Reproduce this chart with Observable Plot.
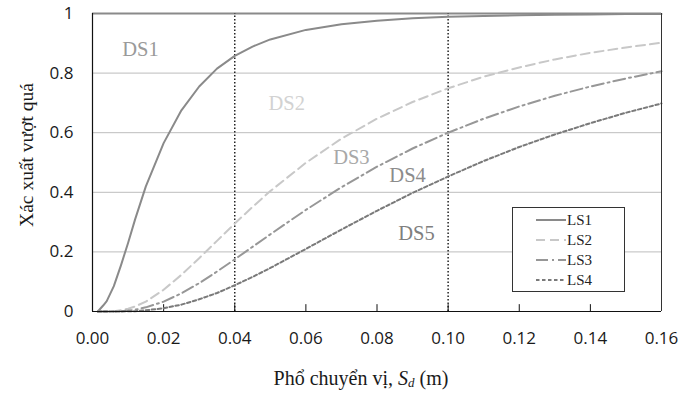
<!DOCTYPE html>
<html>
<head>
<meta charset="utf-8">
<script src="https://cdn.jsdelivr.net/npm/d3@7"></script>
<script src="https://cdn.jsdelivr.net/npm/@observablehq/plot@0.6"></script>
<style>
  html, body { margin: 0; padding: 0; background: #fff; }
  #wrap { position: relative; width: 679px; height: 393px; }
  #legend { position: absolute; left: 512px; top: 207px; width: 113px; height: 85px;
    border: 1px solid #333; background: #fff; box-sizing: border-box;
    font-family: "Liberation Serif", "Times New Roman", serif; font-size: 15px; color: #222; }
  .row { position: absolute; left: 23px; height: 20px; display: flex; align-items: center; line-height: 20px; }
  .row svg { display: block; }
</style>
</head>
<body>
<div id="wrap"><div id="chart"></div><div id="legend"></div></div>
<script>
// Spectral displacement Sd (m)
const sd = [0.0015, 0.003, 0.004, 0.006, 0.008, 0.010, 0.012, 0.015, 0.020, 0.025, 0.030, 0.035, 0.040,
            0.045, 0.050, 0.060, 0.070, 0.080, 0.090, 0.100, 0.110, 0.120, 0.130, 0.140, 0.150, 0.160];
// Exceedance probabilities for each limit state
const ls1 = [0, 0.02, 0.035, 0.085, 0.155, 0.23, 0.31, 0.42, 0.565, 0.675, 0.755, 0.815, 0.858,
             0.889, 0.913, 0.945, 0.964, 0.976, 0.984, 0.989, 0.992, 0.994, 0.996, 0.997, 0.998, 0.998];
const ls2 = [0, 0, 0, 0.001, 0.004, 0.009, 0.017, 0.033, 0.073, 0.123, 0.179, 0.237, 0.295,
             0.351, 0.404, 0.499, 0.580, 0.647, 0.703, 0.749, 0.788, 0.819, 0.846, 0.868, 0.886, 0.902];
const ls3 = [0, 0, 0, 0, 0.001, 0.003, 0.006, 0.014, 0.033, 0.061, 0.095, 0.134, 0.175,
             0.217, 0.259, 0.341, 0.417, 0.486, 0.547, 0.600, 0.647, 0.688, 0.724, 0.755, 0.782, 0.806];
const ls4 = [0, 0, 0, 0, 0, 0.001, 0.001, 0.004, 0.011, 0.023, 0.041, 0.062, 0.088,
             0.116, 0.146, 0.210, 0.275, 0.338, 0.398, 0.453, 0.505, 0.552, 0.594, 0.632, 0.667, 0.698];
const seriesNames = ["LS1", "LS2", "LS3", "LS4"];
const seriesValues = [ls1, ls2, ls3, ls4];

// Damage state annotations
const dsLabels = ["DS1", "DS2", "DS3", "DS4", "DS5"];
const dsX = [0.0135, 0.0546, 0.0728, 0.0886, 0.0911];
const dsY = [0.879, 0.699, 0.516, 0.457, 0.263];

// Threshold lines
const thresholds = [0.04, 0.10];

// Ticks
const xTicks = [0, 0.02, 0.04, 0.06, 0.08, 0.10, 0.12, 0.14, 0.16];
const xTickLabels = ["0.00", "0.02", "0.04", "0.06", "0.08", "0.10", "0.12", "0.14", "0.16"];
const yTicks = [0, 0.2, 0.4, 0.6, 0.8, 1];
const yTickLabels = ["0", "0.2", "0.4", "0.6", "0.8", "1"];
const gridY = [0.2, 0.4, 0.6, 0.8];

const yLabel = "Xác xuất vượt quá";

// styles
const styles = {
  LS1: {stroke: "#8a8a8a", dash: null},
  LS2: {stroke: "#c8c8c8", dash: "9,5"},
  LS3: {stroke: "#979797", dash: "12,4,2,4"},
  LS4: {stroke: "#7a7a7a", dash: "3.5,2.5"}
};
const dsColors = ["#9a9a9a", "#d2d2d2", "#a8a8a8", "#8c8c8c", "#7f7f7f"];

const rows = [];
seriesNames.forEach((name, k) => sd.forEach((x, i) => rows.push({ls: name, sd: x, p: seriesValues[k][i]})));
const dsRows = dsLabels.map((t, i) => ({t, x: dsX[i], y: dsY[i], c: dsColors[i]}));

const lineMarks = seriesNames.map(name => Plot.line(rows.filter(r => r.ls === name), {
  x: "sd", y: "p", stroke: styles[name].stroke, strokeWidth: 2,
  strokeDasharray: styles[name].dash, curve: "linear"
}));

const chart = Plot.plot({
  width: 679, height: 393,
  marginLeft: 92, marginRight: 18, marginTop: 13, marginBottom: 82,
  x: {domain: [0, 0.16]},
  y: {domain: [0, 1]},
  style: {background: "#fff"},
  marks: [
    Plot.ruleY(gridY, {stroke: "#bdbdbd", strokeWidth: 1}),
    Plot.ruleY([1], {stroke: "#8a8a8a", strokeWidth: 2}),
    Plot.ruleX(thresholds, {y1: 0, y2: 1, stroke: "#222", strokeWidth: 1.5, strokeDasharray: "1.5,2"}),
    Plot.ruleX(xTicks, {y1: 0, y2: 0.023, stroke: "#111", strokeWidth: 1}),
    ...lineMarks,
    Plot.ruleX([0.16], {y1: 0, y2: 1, stroke: "#333", strokeWidth: 1}),
    Plot.ruleX([0], {y1: 0, y2: 1, stroke: "#111", strokeWidth: 1.2}),
    Plot.ruleY([0], {stroke: "#111", strokeWidth: 1.2}),
    Plot.text(dsRows, {x: "x", y: "y", text: "t", fill: "c",
      fontFamily: "Liberation Serif, Times New Roman, serif", fontSize: 20.5}),
    Plot.axisX(xTicks, {tickSize: 0, tickPadding: 20, label: null,
      tickFormat: d => xTickLabels[xTicks.findIndex(v => Math.abs(v - d) < 1e-9)],
      fontFamily: "Open Sans", fontSize: 17, fill: "#1a1a1a"}),
    Plot.axisY(yTicks, {tickSize: 0, tickPadding: 19, label: null,
      tickFormat: d => yTickLabels[yTicks.findIndex(v => Math.abs(v - d) < 1e-9)],
      fontFamily: "Open Sans", fontSize: 17, fill: "#1a1a1a"})
  ]
});
document.getElementById("chart").appendChild(chart);

// Axis titles
const svg = d3.select(chart);
const xt = svg.append("text")
  .attr("x", 361).attr("y", 385)
  .attr("text-anchor", "middle")
  .attr("font-family", "Liberation Serif, Times New Roman, serif")
  .attr("font-size", 20).attr("fill", "#1a1a1a");
xt.append("tspan").text("Phổ chuyển vị, ");
xt.append("tspan").attr("font-style", "italic").text("S");
xt.append("tspan").attr("font-style", "italic").attr("font-size", 13).attr("dy", 2).text("d");
xt.append("tspan").attr("dy", -2).text(" (m)");

svg.append("text")
  .attr("transform", "translate(26,155) rotate(-90)")
  .attr("text-anchor", "middle").attr("dominant-baseline", "central")
  .attr("font-family", "Liberation Serif, Times New Roman, serif")
  .attr("font-size", 19.5).attr("fill", "#1a1a1a")
  .text(yLabel);

// Legend
const legend = document.getElementById("legend");
const rowTops = [2, 22, 42, 62];
seriesNames.forEach((name, i) => {
  const row = document.createElement("div");
  row.className = "row";
  row.style.top = rowTops[i] + "px";
  const s = d3.create("svg").attr("width", 31).attr("height", 20);
  s.append("line").attr("x1", 0).attr("x2", 30).attr("y1", 10).attr("y2", 10)
    .attr("stroke", styles[name].stroke).attr("stroke-width", 2)
    .attr("stroke-dasharray", styles[name].dash);
  row.appendChild(s.node());
  const t = document.createElement("span");
  t.textContent = name;
  row.appendChild(t);
  legend.appendChild(row);
});
</script>
</body>
</html>
